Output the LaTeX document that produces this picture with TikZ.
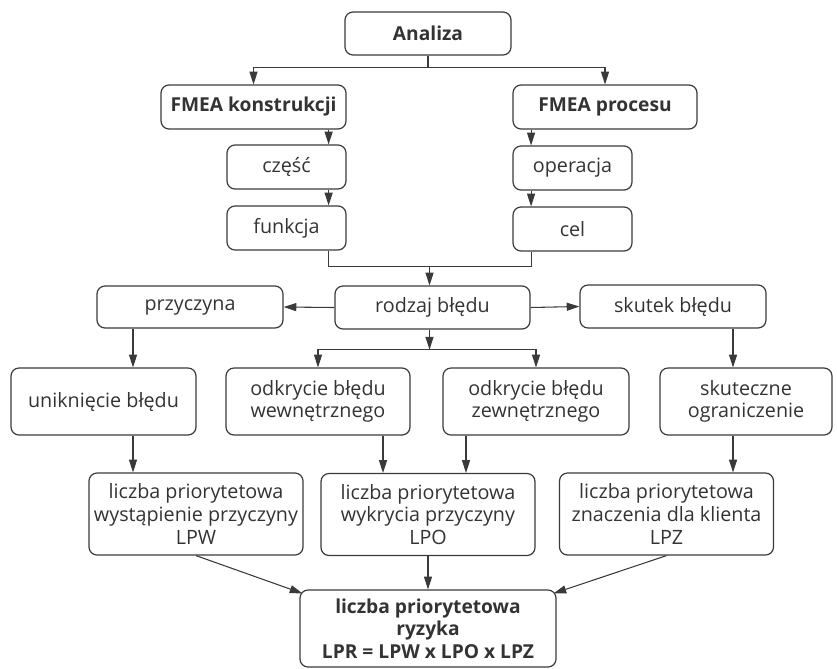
\documentclass[tikz,border=0pt]{standalone}
\usepackage{fontspec}
\setmainfont{Open Sans}
\usetikzlibrary{arrows.meta,calc}
\definecolor{ink}{HTML}{3A3A3A}
\definecolor{txt}{HTML}{333333}
\begin{document}
\begin{tikzpicture}[x=0.75pt,y=-0.75pt,
  box/.style={draw=ink,line width=0.9pt,rounded corners=6pt,align=center,
    text=txt,inner sep=0pt,font=\fontsize{14.8}{17}\selectfont},
  boldbox/.style={box,font=\fontsize{14.4}{17}\selectfont\bfseries},
  arr/.style={draw=ink,line width=0.8pt,-{Triangle[length=9.5pt,width=6pt]}},
  ln/.style={draw=ink,line width=0.8pt}]
\useasboundingbox (0,0) rectangle (837,668);

% top level
\node[boldbox,minimum width=124.5pt,minimum height=32.25pt] (an) at (428,33.5) {Analiza};
\node[boldbox,minimum width=138.75pt,minimum height=33pt] (fk) at (253.5,107) {FMEA konstrukcji};
\node[boldbox,minimum width=138pt,minimum height=33pt] (fp) at (605,107) {FMEA procesu};

% part / operation chains
\node[box,minimum width=89.25pt,minimum height=33pt] (cz) at (286.5,167) {część};
\node[box,minimum width=89.25pt,minimum height=33pt] (fu) at (286.5,228) {funkcja};
\node[box,minimum width=89.25pt,minimum height=33pt] (op) at (572.5,168) {operacja};
\node[box,minimum width=89.25pt,minimum height=33pt] (ce) at (572.5,229) {cel};

% failure mode row
\node[box,minimum width=146.25pt,minimum height=32.25pt] (rb) at (432.5,307.5) {rodzaj błędu};
\node[box,minimum width=139.5pt,minimum height=31.5pt] (pr) at (190,307) {przyczyna};
\node[box,minimum width=139.5pt,minimum height=32.25pt] (sk) at (673,306.5) {skutek błędu};

% measures row
\node[box,minimum width=138.75pt,minimum height=50.25pt] (un) at (103.5,401.5) {uniknięcie błędu};
\node[box,minimum width=138pt,minimum height=50.25pt] (ow) at (318,401.5) {odkrycie błędu\\wewnętrznego};
\node[box,minimum width=139.5pt,minimum height=50.25pt] (oz) at (536,401.5) {odkrycie błędu\\zewnętrznego};
\node[box,minimum width=129pt,minimum height=50.25pt] (sg) at (746,401.5) {skuteczne\\ograniczenie};

% priority numbers
\node[box,minimum width=160.5pt,minimum height=61.5pt] (lw) at (196,514) {liczba priorytetowa\\wystąpienie przyczyny\\LPW};
\node[box,minimum width=160.5pt,minimum height=61.5pt] (lo) at (428,514.5) {liczba priorytetowa\\wykrycia przyczyny\\LPO};
\node[box,minimum width=160.5pt,minimum height=61.5pt] (lz) at (666.5,514) {liczba priorytetowa\\znaczenia dla klienta\\LPZ};

% risk priority number
\node[boldbox,minimum width=192pt,minimum height=57.75pt] (rk) at (428,628.5) {liczba priorytetowa\\ryzyka\\LPR = LPW x LPO x LPZ};

% column guides for vertical connectors
\coordinate (c1) at (133,0);
\coordinate (c2) at (383,0);
\coordinate (c3) at (466,0);
\coordinate (c4) at (733,0);

% connectors
\draw[ln] (an.south) -- ++(0,12) coordinate (j0);
\draw[arr] (j0) -| (fk.north);
\draw[arr] (j0) -| (fp.north);

\draw[arr] ([xshift=-13.5pt]fk.south east) -- ([xshift=-13.5pt]cz.north east);
\draw[arr] ([xshift=-13.5pt]cz.south east) -- ([xshift=-13.5pt]fu.north east);
\draw[arr] ([xshift=14pt]fp.south west) -- ([xshift=14pt]op.north west);
\draw[arr] ([xshift=14pt]op.south west) -- ([xshift=14pt]ce.north west);

\coordinate (j1) at ($(fu.south)!0.5!(ce.south)+(0,15)$);
\draw[ln] ([xshift=-13.5pt]fu.south east) |- (j1) -| ([xshift=14pt]ce.south west);
\draw[arr] (j1) -- (j1 |- rb.north);

\draw[arr] (rb.west) -- (pr.east);
\draw[arr] (rb.east) -- (sk.west);

\draw[arr] (j1 |- rb.south) -- ++(0,20) coordinate (j2);
\draw[arr] (j2) -| (ow.north);
\draw[arr] (j2) -| (oz.north);

\draw[arr] (c1 |- pr.south) -- (c1 |- un.north);
\draw[arr] (c4 |- sk.south) -- (c4 |- sg.north);

\draw[arr] (c1 |- un.south) -- (c1 |- lw.north);
\draw[arr] (c2 |- ow.south) -- (c2 |- lo.north);
\draw[arr] (c3 |- oz.south) -- (c3 |- lo.north);
\draw[arr] (c4 |- sg.south) -- (c4 |- lz.north);

\draw[arr] (lw.south) -- ([shift={(3,4)}]rk.north west);
\draw[arr] (lo.south) -- (rk.north);
\draw[arr] (lz.south) -- ([shift={(-3,4)}]rk.north east);
\end{tikzpicture}
\end{document}
